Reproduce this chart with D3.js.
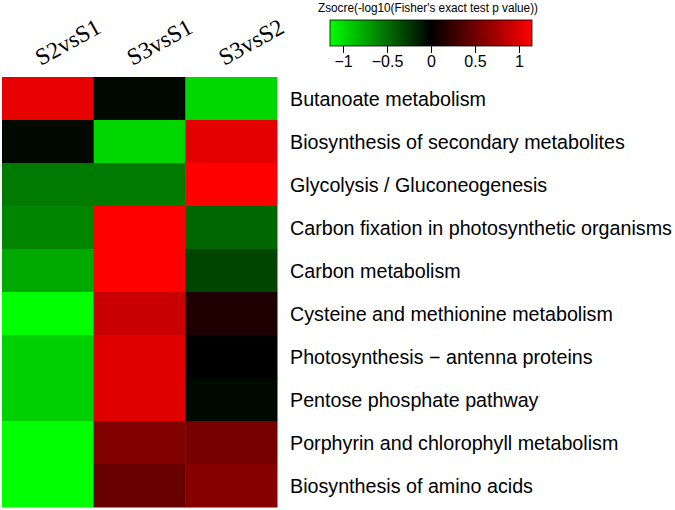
<!DOCTYPE html>
<html><head><meta charset="utf-8">
<script src="https://cdn.jsdelivr.net/npm/d3@7"></script>
<style>body{margin:0;background:#fff}svg{display:block}</style>
</head><body>
<svg id="c" width="675" height="510"></svg>
<script>
const columns = ["S2vsS1", "S3vsS1", "S3vsS2"];
const pathways = [
  "Butanoate metabolism",
  "Biosynthesis of secondary metabolites",
  "Glycolysis / Gluconeogenesis",
  "Carbon fixation in photosynthetic organisms",
  "Carbon metabolism",
  "Cysteine and methionine metabolism",
  "Photosynthesis \u2212 antenna proteins",
  "Pentose phosphate pathway",
  "Porphyrin and chlorophyll metabolism",
  "Biosynthesis of amino acids"
];
const s2vsS1 = [1.04, -0.04, -0.55, -0.60, -0.76, -1.15, -0.94, -0.94, -1.15, -1.15];
const s3vsS1 = [-0.04, -0.97, -0.55, 1.15, 1.15, 0.90, 1.01, 1.01, 0.58, 0.47];
const s3vsS2 = [-0.97, 1.03, 1.15, -0.46, -0.31, 0.14, 0.00, -0.04, 0.53, 0.61];
const legendTicks = [-1, -0.5, 0, 0.5, 1];
const legendTitle = "Zsocre(-log10(Fisher's exact test p value))";

const series = [s2vsS1, s3vsS1, s3vsS2];
const cells = [];
pathways.forEach((p, i) => columns.forEach((c, j) => cells.push({p, c, v: series[j][i]})));

const svg = d3.select("#c");
const x = d3.scaleBand().domain(columns).range([2, 277]);
const y = d3.scaleBand().domain(pathways).range([77, 507]);
const color = d3.scaleLinear().domain([-1.15, 0, 1.15]).range(["#00ff00", "#000000", "#ff0000"]).clamp(true);

svg.append("g").selectAll("rect").data(cells).join("rect")
  .attr("x", d => x(d.c)).attr("y", d => y(d.p))
  .attr("width", x.bandwidth() + 0.5).attr("height", y.bandwidth() + 0.5)
  .attr("fill", d => color(d.v));

// row labels
svg.append("g").selectAll("text").data(pathways).join("text")
  .attr("x", 290).attr("y", d => y(d) + y.bandwidth() / 2)
  .attr("dy", "0.36em")
  .attr("font-family", "Liberation Sans, Arial, sans-serif")
  .attr("font-size", 19.7).attr("fill", "#000")
  .text(d => d);

// column labels
svg.append("g").selectAll("text").data(columns).join("text")
  .attr("transform", d => `translate(${x(d) + x.bandwidth() / 2 - 7},66) rotate(-29)`)
  .attr("font-family", "Liberation Serif, Times New Roman, serif")
  .attr("font-size", 23.5).attr("fill", "#000")
  .text(d => d);

// legend
const lx = d3.scaleLinear().domain([-1.148, 1.148]).range([330, 532]);
const defs = svg.append("defs");
const grad = defs.append("linearGradient").attr("id", "lg");
d3.range(0, 1.0001, 0.05).forEach(t => {
  grad.append("stop").attr("offset", t).attr("stop-color", color(-1.15 + 2.3 * t));
});
svg.append("text").attr("x", 428).attr("y", 12).attr("text-anchor", "middle")
  .attr("font-family", "Liberation Sans, Arial, sans-serif").attr("font-size", 12.5)
  .attr("textLength", 220).attr("lengthAdjust", "spacingAndGlyphs")
  .text(legendTitle);
svg.append("rect").attr("x", 330).attr("y", 20).attr("width", 202).attr("height", 26)
  .attr("fill", "url(#lg)").attr("stroke", "#000").attr("stroke-width", 0.8);
const ax = svg.append("g").attr("transform", "translate(0,46)")
  .call(d3.axisBottom(lx).tickValues(legendTicks).tickSize(7).tickPadding(3)
    .tickFormat(d => d3.format("")(d).replace("-", "\u2212")));
ax.select(".domain").remove();
ax.selectAll("text").attr("font-family", "Liberation Sans, Arial, sans-serif").attr("font-size", 16).attr("fill", "#000");
</script>
</body></html>
